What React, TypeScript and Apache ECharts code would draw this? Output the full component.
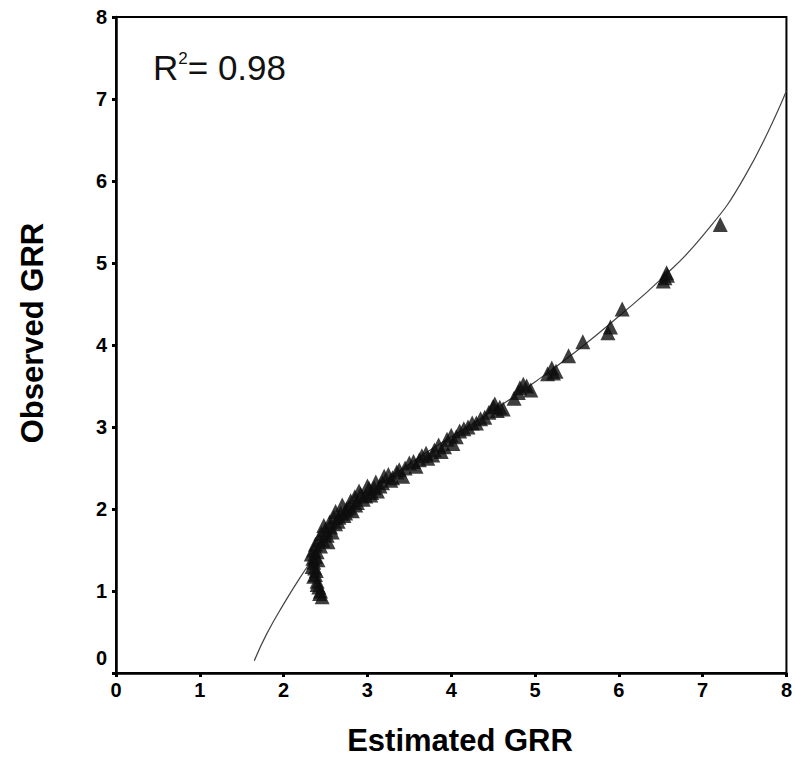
import React, { useEffect, useRef } from "react";
import * as echarts from "echarts";

// Observed points (Estimated GRR, Observed GRR)
const estimatedGRR = [
  2.43, 2.42, 2.40, 2.38, 2.37, 2.36, 2.38, 2.36, 2.38, 2.42, 2.45, 2.50, 2.48, 2.55, 2.60,
  2.62, 2.68, 2.70, 2.75, 2.80, 2.85, 2.90, 2.95, 3.00, 3.05, 3.10, 3.15, 3.20, 3.28, 3.35,
  3.42, 3.50, 3.58, 3.65, 3.72, 3.80, 3.88, 3.95, 4.02, 4.10, 4.20, 4.30, 4.40, 4.50, 4.55,
  4.62, 4.75, 4.82, 4.90, 4.95, 5.15, 5.20, 5.25, 5.40, 5.57, 5.87, 5.90, 6.04, 6.55, 6.57,
  6.53, 7.21,
  2.44, 2.40, 2.36, 2.34, 2.35, 2.40, 2.44, 2.47, 2.52, 2.56, 2.58, 2.65, 2.66, 2.72, 2.78,
  2.82, 2.88, 2.92, 2.98, 3.02, 3.08, 3.12, 3.18, 3.25, 3.30, 3.38, 3.45, 3.55, 3.62, 3.70,
  3.78, 3.85, 3.92, 4.00, 4.06, 4.15, 4.25, 4.35, 4.45, 4.52, 4.58, 4.80, 4.86, 5.22, 6.58,
  2.46, 2.39, 2.33, 2.41, 2.53, 2.62, 2.74, 2.86, 3.04,
];
const observedGRR = [
  0.97, 1.05, 1.12, 1.20, 1.28, 1.35, 1.42, 1.50, 1.57, 1.63, 1.70, 1.75, 1.80, 1.84, 1.90,
  1.97, 1.95, 2.05, 2.00, 2.10, 2.15, 2.22, 2.12, 2.28, 2.20, 2.33, 2.28, 2.40, 2.35, 2.45,
  2.40, 2.56, 2.52, 2.65, 2.62, 2.72, 2.70, 2.85, 2.80, 2.95, 3.00, 3.05, 3.12, 3.25, 3.20,
  3.22, 3.35, 3.48, 3.50, 3.45, 3.65, 3.72, 3.68, 3.87, 4.04, 4.15, 4.22, 4.44, 4.82, 4.88,
  4.78, 5.47,
  1.00, 1.08, 1.18, 1.30, 1.40, 1.48, 1.55, 1.62, 1.68, 1.78, 1.72, 1.85, 1.90, 1.92, 2.02,
  1.98, 2.08, 2.18, 2.16, 2.25, 2.26, 2.22, 2.32, 2.42, 2.38, 2.48, 2.50, 2.58, 2.60, 2.68,
  2.66, 2.78, 2.76, 2.90, 2.88, 2.98, 3.05, 3.10, 3.18, 3.28, 3.24, 3.42, 3.52, 3.66, 4.85,
  0.93, 1.25, 1.45, 1.38, 1.60, 1.82, 1.95, 2.05, 2.17,
];

// Fitted curve
const fitX = [1.65, 1.8, 2.0, 2.2, 2.4, 2.6, 2.8, 3.0, 3.5, 4.0, 4.5, 5.0, 5.5, 6.0, 6.5, 7.0, 7.5, 8.0];
const fitY = [0.15, 0.48, 0.84, 1.17, 1.47, 1.75, 2.0, 2.18, 2.55, 2.88, 3.2, 3.55, 3.93, 4.35, 4.8, 5.33, 6.05, 7.1];

const axisTicks = [0, 1, 2, 3, 4, 5, 6, 7, 8];

export default function App() {
  const ref = useRef<HTMLDivElement>(null);
  useEffect(() => {
    if (!ref.current) return;
    const chart = echarts.init(ref.current, null, { renderer: "svg" });
    const scatterData = estimatedGRR.map((x, i) => [x, observedGRR[i]]);
    const lineData = fitX.map((x, i) => [x, fitY[i]]);
    const font = "'Liberation Sans', Arial, Helvetica, sans-serif";
    chart.setOption({
      animation: false,
      backgroundColor: "#ffffff",
      grid: {
        left: 116,
        top: 17,
        width: 676,
        height: 656,
        show: true,
        borderColor: "#000",
        borderWidth: 2,
        backgroundColor: "transparent",
      },
      xAxis: {
        type: "value",
        min: axisTicks[0],
        max: axisTicks[axisTicks.length - 1],
        interval: 1,
        splitLine: { show: false },
        axisLine: { show: true, onZero: false, lineStyle: { color: "#000", width: 2.5 } },
        axisTick: { show: true, length: 4, lineStyle: { color: "#000", width: 3 } },
        axisLabel: {
          color: "#000",
          fontFamily: font,
          fontWeight: "bold",
          fontSize: 20,
          margin: 7,
        },
      },
      yAxis: {
        type: "value",
        min: axisTicks[0],
        max: axisTicks[axisTicks.length - 1],
        interval: 1,
        splitLine: { show: false },
        axisLine: { show: true, onZero: false, lineStyle: { color: "#000", width: 2.5 } },
        axisTick: { show: true, length: 4, lineStyle: { color: "#000", width: 3 } },
        axisLabel: {
          color: "#000",
          fontFamily: font,
          fontWeight: "bold",
          fontSize: 20,
          margin: 9,
          formatter: (v: number) => (v === 0 ? "{z|0}" : String(v)),
          rich: {
            z: {
              color: "#000",
              fontFamily: font,
              fontWeight: "bold",
              fontSize: 20,
              padding: [0, 0, 30, 0],
            },
          },
        },
      },
      series: [
        {
          type: "line",
          data: lineData,
          smooth: true,
          showSymbol: false,
          lineStyle: { color: "#444", width: 1.2 },
          z: 1,
        },
        {
          type: "scatter",
          data: scatterData,
          symbol: "triangle",
          symbolSize: 15,
          itemStyle: { color: "#0e0e0e" },
          z: 2,
        },
      ],
      graphic: [
        {
          type: "text",
          left: 153,
          top: 50,
          style: {
            text: "R{sup|2}= 0.98",
            fontFamily: font,
            fontSize: 35,
            fill: "#111",
            rich: {
              sup: { fontSize: 17, fontFamily: font, fill: "#111", verticalAlign: "top", padding: [0, 0, 16, 0] },
            },
          },
        },
        {
          type: "text",
          x: 460,
          y: 740,
          style: {
            text: "Estimated GRR",
            fontFamily: font,
            fontWeight: "bold",
            fontSize: 31,
            fill: "#000",
            align: "center",
            verticalAlign: "middle",
          },
        },
        {
          type: "text",
          x: 32,
          y: 333,
          rotation: Math.PI / 2,
          style: {
            text: "Observed GRR",
            fontFamily: font,
            fontWeight: "bold",
            fontSize: 31,
            fill: "#000",
            align: "center",
            verticalAlign: "middle",
          },
        },
      ],
    });
    return () => chart.dispose();
  }, []);
  return (
    <div
      ref={ref}
      style={{ position: "fixed", left: 0, top: 0, width: 795, height: 761, background: "#fff" }}
    />
  );
}
